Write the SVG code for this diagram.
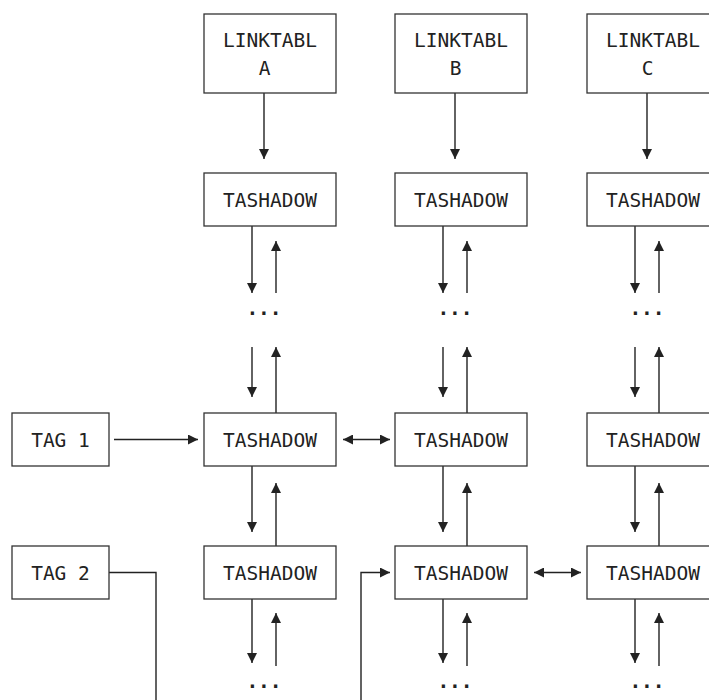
<svg xmlns="http://www.w3.org/2000/svg" width="709" height="700" viewBox="0 0 709 700">
<style>
.box{fill:#fff;stroke:#333;stroke-width:1.3}
.t{font-family:"DejaVu Sans Mono","Liberation Mono",monospace;font-size:19.5px;fill:#222;text-anchor:middle}
.dt{font-weight:bold}
.c{fill:none;stroke:#222;stroke-width:1.4}
.a{marker-end:url(#ah)}
.d{marker-start:url(#ah);marker-end:url(#ah)}
</style>
<defs>
<marker id="ah" viewBox="0 0 10 10" refX="10" refY="5" markerWidth="11" markerHeight="10" markerUnits="userSpaceOnUse" orient="auto-start-reverse">
<path d="M0,0 L10,5 L0,10 z" fill="#222"/>
</marker>
</defs>
<rect width="709" height="700" fill="#fff"/>
<g id="connectors">
<path class="c a" d="M264,93 V159"/>
<path class="c a" d="M455,93 V159"/>
<path class="c a" d="M647,93 V159"/>
<path class="c a" d="M252,226 V293"/><path class="c a" d="M276,293 V241"/>
<path class="c a" d="M443,226 V293"/><path class="c a" d="M467,293 V241"/>
<path class="c a" d="M635,226 V293"/><path class="c a" d="M659,293 V241"/>
<path class="c a" d="M252,347 V397"/><path class="c a" d="M276,413 V347"/>
<path class="c a" d="M443,347 V397"/><path class="c a" d="M467,413 V347"/>
<path class="c a" d="M635,347 V397"/><path class="c a" d="M659,413 V347"/>
<path class="c a" d="M252,466 V532"/><path class="c a" d="M276,546 V483"/>
<path class="c a" d="M443,466 V532"/><path class="c a" d="M467,546 V483"/>
<path class="c a" d="M635,466 V532"/><path class="c a" d="M659,546 V483"/>
<path class="c a" d="M252,599 V663"/><path class="c a" d="M276,666 V613"/>
<path class="c a" d="M443,599 V663"/><path class="c a" d="M467,666 V613"/>
<path class="c a" d="M635,599 V663"/><path class="c a" d="M659,666 V613"/>
<path class="c a" d="M114,439.5 H198"/>
<path class="c d" d="M343,439.5 H390"/>
<path class="c d" d="M534,572.5 H581"/>
<path class="c" d="M109,572.5 H156 V700"/>
<path class="c a" d="M361,700 V572.5 H390"/>
</g>
<g id="dots">
<text class="t dt" x="264" y="315">...</text>
<text class="t dt" x="455" y="315">...</text>
<text class="t dt" x="647" y="315">...</text>
<text class="t dt" x="264" y="688">...</text>
<text class="t dt" x="455" y="688">...</text>
<text class="t dt" x="647" y="688">...</text>
</g>
<g id="linktabl-a"><rect class="box" x="204" y="14" width="132" height="79"/><text class="t" x="270" y="47.3">LINKTABL</text><text class="t" x="264.5" y="75">A</text></g>
<g id="linktabl-b"><rect class="box" x="395" y="14" width="132" height="79"/><text class="t" x="461" y="47.3">LINKTABL</text><text class="t" x="455.5" y="75">B</text></g>
<g id="linktabl-c"><rect class="box" x="587" y="14" width="132" height="79"/><text class="t" x="653" y="47.3">LINKTABL</text><text class="t" x="647.5" y="75">C</text></g>
<g id="tashadow-a1"><rect class="box" x="204" y="173" width="132" height="53"/><text class="t" x="270" y="207">TASHADOW</text></g>
<g id="tashadow-b1"><rect class="box" x="395" y="173" width="132" height="53"/><text class="t" x="461" y="207">TASHADOW</text></g>
<g id="tashadow-c1"><rect class="box" x="587" y="173" width="132" height="53"/><text class="t" x="653" y="207">TASHADOW</text></g>
<g id="tashadow-a2"><rect class="box" x="204" y="413" width="132" height="53"/><text class="t" x="270" y="446.5">TASHADOW</text></g>
<g id="tashadow-b2"><rect class="box" x="395" y="413" width="132" height="53"/><text class="t" x="461" y="446.5">TASHADOW</text></g>
<g id="tashadow-c2"><rect class="box" x="587" y="413" width="132" height="53"/><text class="t" x="653" y="446.5">TASHADOW</text></g>
<g id="tashadow-a3"><rect class="box" x="204" y="546" width="132" height="53"/><text class="t" x="270" y="579.5">TASHADOW</text></g>
<g id="tashadow-b3"><rect class="box" x="395" y="546" width="132" height="53"/><text class="t" x="461" y="579.5">TASHADOW</text></g>
<g id="tashadow-c3"><rect class="box" x="587" y="546" width="132" height="53"/><text class="t" x="653" y="579.5">TASHADOW</text></g>
<g id="tag1"><rect class="box" x="12" y="413" width="97" height="53"/><text class="t" x="60.5" y="446.5">TAG 1</text></g>
<g id="tag2"><rect class="box" x="12" y="546" width="97" height="53"/><text class="t" x="60.5" y="579.5">TAG 2</text></g>
</svg>
